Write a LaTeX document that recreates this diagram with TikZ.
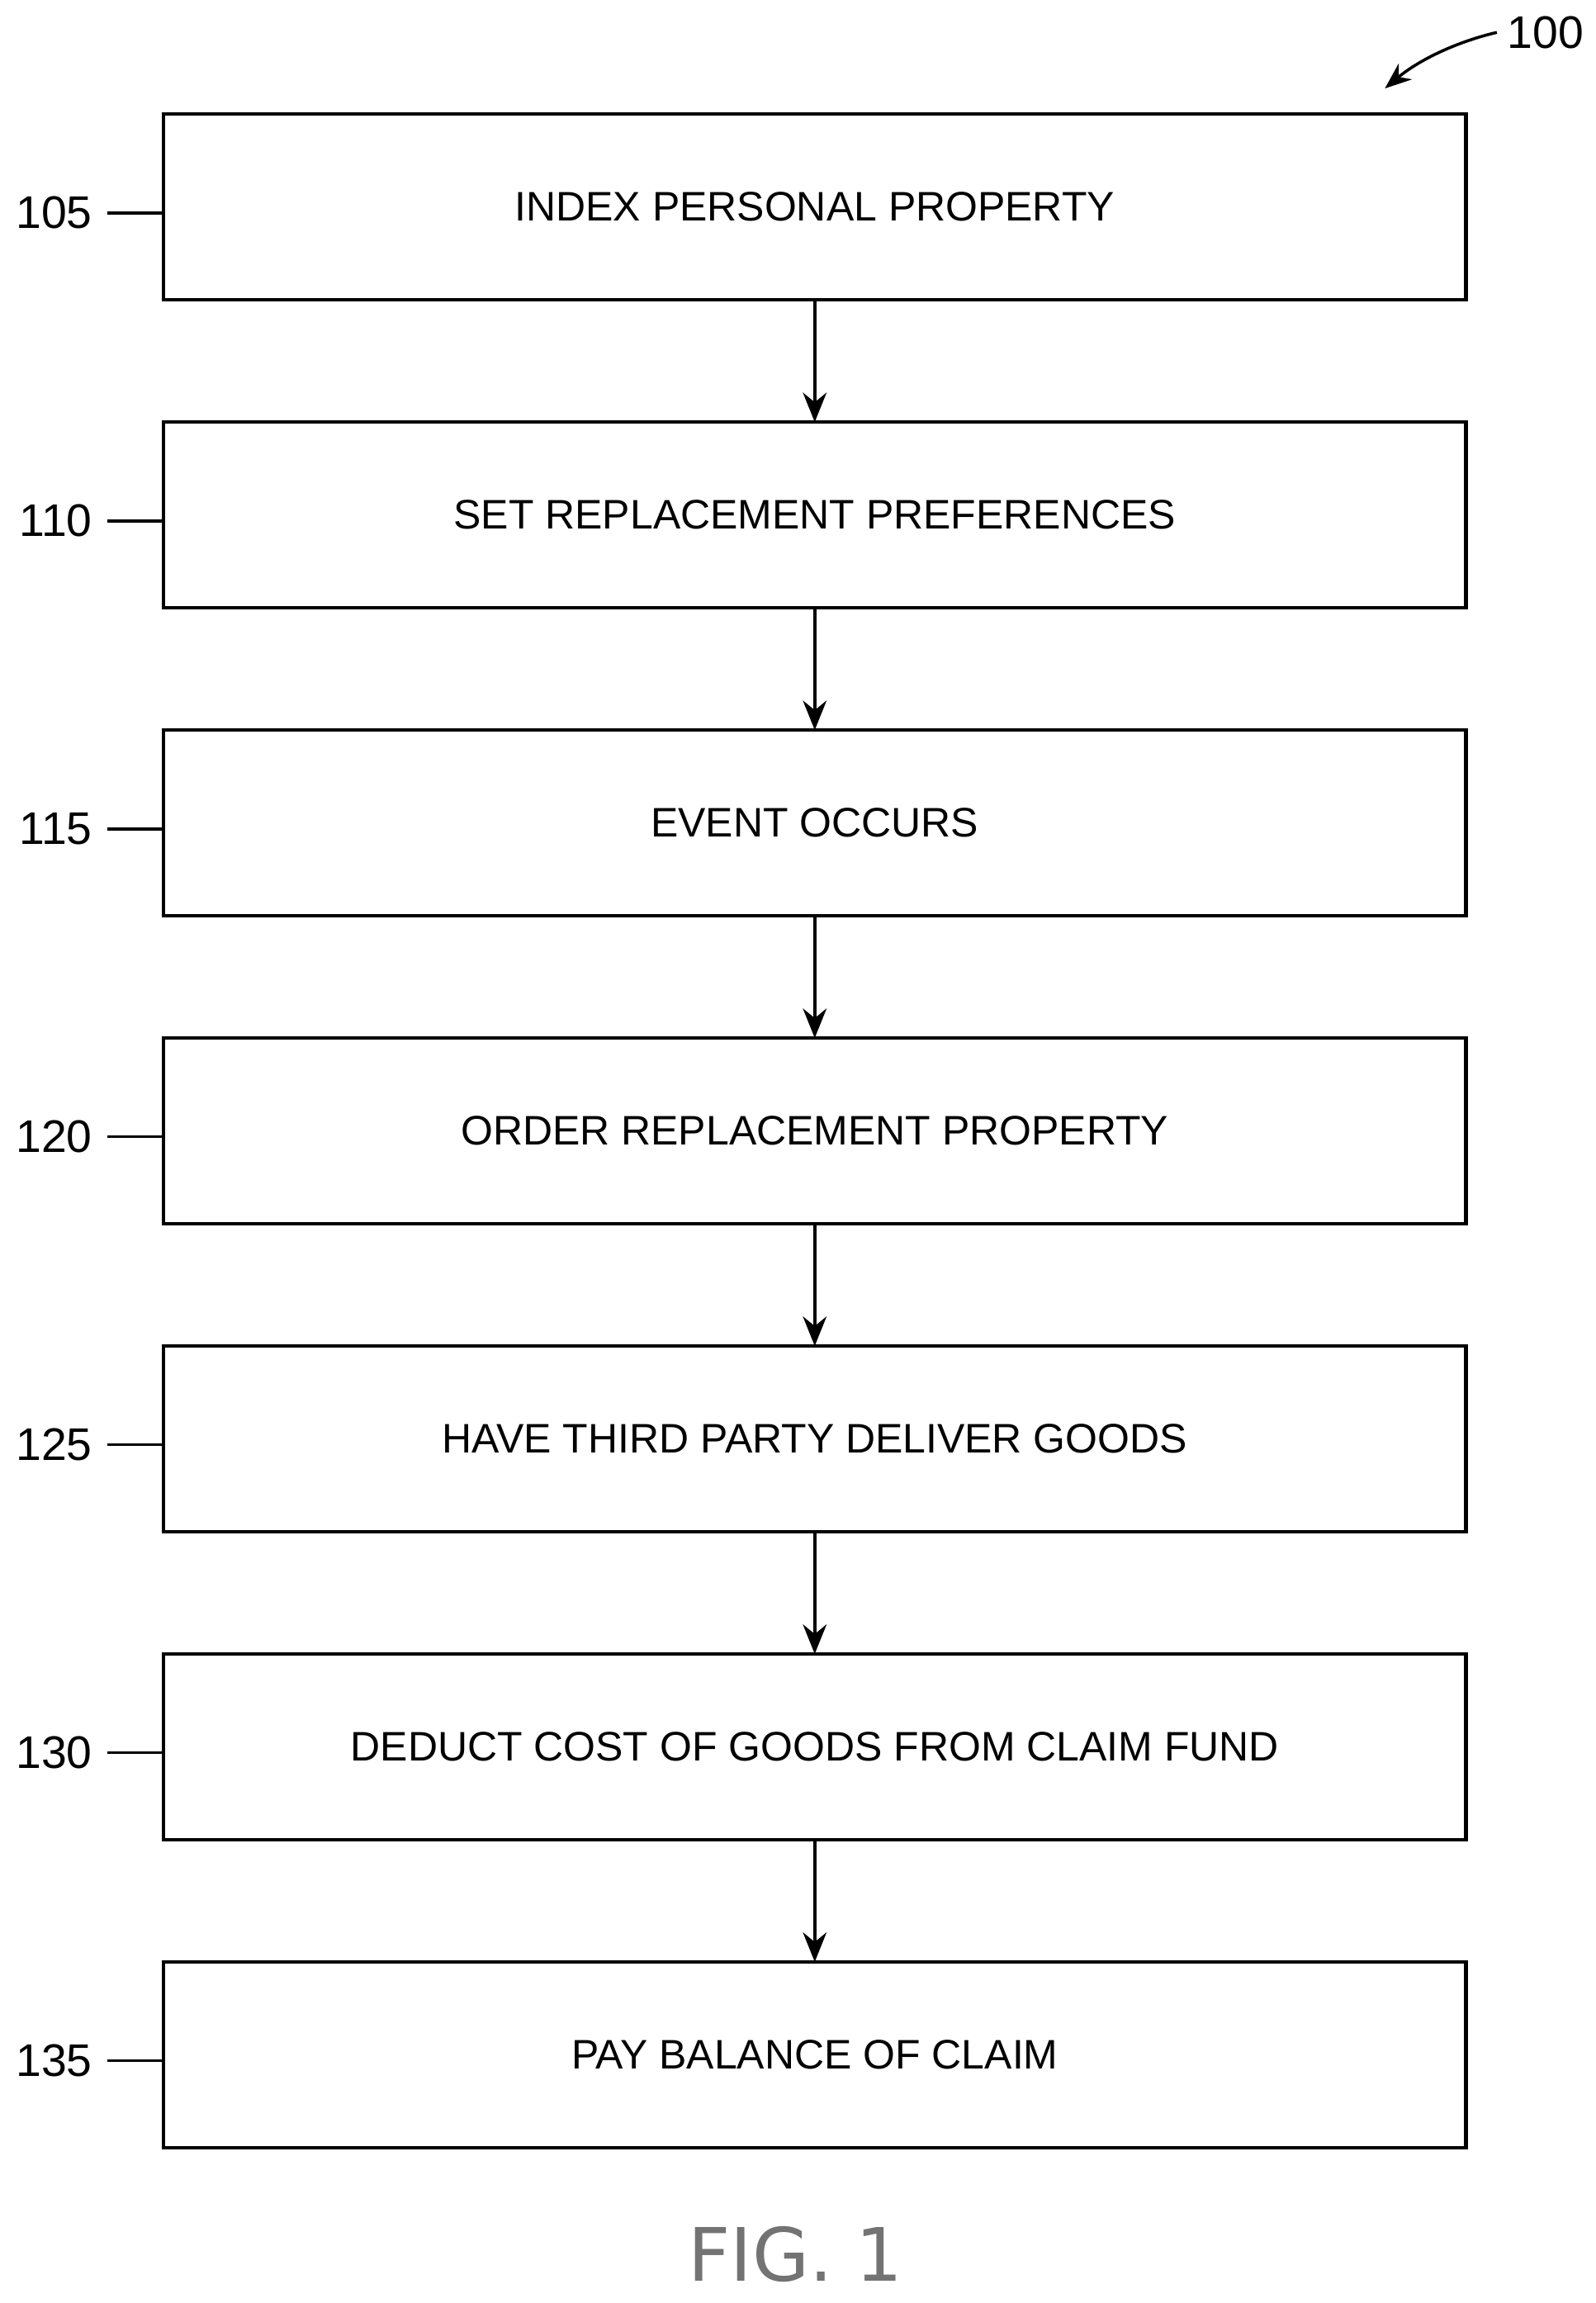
\documentclass[tikz,border=0pt]{standalone}
\usepackage{fontspec}
\setmainfont{Liberation Sans}
\newfontfamily\figfont{DejaVu Sans}
\usetikzlibrary{arrows.meta,positioning}

\begin{document}
\begin{tikzpicture}[node distance= 41.5pt,
    stepbox/.style={draw, line width=1.2pt, minimum width=442pt, minimum height=63pt,
      inner sep=0pt, outer sep=0pt, font=\fontsize{14}{16}\selectfont},
    flow/.style={line width=1.2pt, -{Stealth[length=10pt,width=8pt]}},
    ref/.style={font=\fontsize{15.5}{17}\selectfont, inner sep=0pt, anchor=east},
    lead/.style={line width=1pt}]
  \useasboundingbox (0,0) rectangle (541.5pt,-781.5pt);
  % steps
  \node[stepbox] (S1) at (276.5pt,-70.25pt) {INDEX PERSONAL PROPERTY};
  \node[stepbox] (S2) [below= of S1] {SET REPLACEMENT PREFERENCES};
  \node[stepbox] (S3) [below= of S2] {EVENT OCCURS};
  \node[stepbox] (S4) [below= of S3] {ORDER REPLACEMENT PROPERTY};
  \node[stepbox] (S5) [below= of S4] {HAVE THIRD PARTY DELIVER GOODS};
  \node[stepbox] (S6) [below= of S5] {DEDUCT COST OF GOODS FROM CLAIM FUND};
  \node[stepbox] (S7) [below= of S6] {PAY BALANCE OF CLAIM};
  % arrows
  \foreach \a/\b in {S1/S2,S2/S3,S3/S4,S4/S5,S5/S6,S6/S7}
    \draw[flow] (\a) -- (\b);
  % reference numerals
  \foreach \s/\n in {S1/105,S2/110,S3/115,S4/120,S5/125,S6/130,S7/135} {
    \coordinate (L\n) at ([xshift=-19pt,yshift=-2pt]\s.west);
    \node[ref] (N\n) at ([xshift=-5pt]L\n) {\n};
    \draw[lead] (L\n) -- ([yshift=-2pt]\s.west);
  }
  % figure numeral
  \node[font=\fontsize{15.5}{17}\selectfont, anchor=west] (N100) at (508pt,-11pt) {100};
  \coordinate (A100) at (470pt,-30pt);
  \draw[line width=1pt, -{Stealth[length=9pt,width=7pt]}] (N100.west) .. controls (495pt,-14pt) and (482pt,-20pt) .. (A100);
  % caption
  \node[font=\figfont\fontsize{25}{28}\selectfont, text=black!55] (FIG) at (270pt,-765pt) {FIG. 1};
\end{tikzpicture}
\end{document}
